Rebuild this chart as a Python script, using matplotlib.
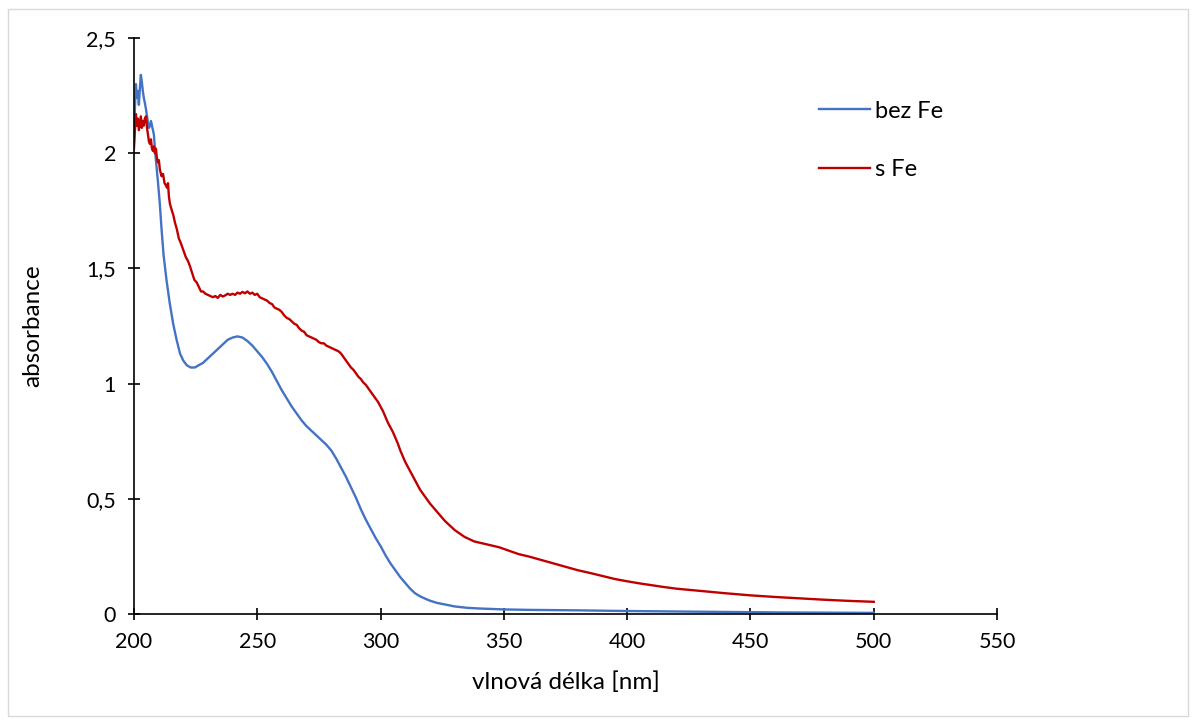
import matplotlib
matplotlib.use("Agg")
import matplotlib.pyplot as plt
from matplotlib.ticker import FuncFormatter, MultipleLocator
from matplotlib.patches import Rectangle

plt.rcParams['font.family'] = ['Lato', 'DejaVu Sans']

# absorption spectrum without iron
bez_fe_nm = [200.0, 200.4, 200.8, 201.2, 201.6, 202.0, 202.4, 202.8, 203.2, 203.6,
             204.0, 204.4, 204.9, 205.3, 205.7, 206.1, 206.5, 206.9, 207.3, 207.7,
             208.1, 208.5, 208.9, 209.7, 210.5, 211.2, 212.0, 213.2, 214.5, 215.9,
             217.3, 218.7, 220.0, 221.4, 223.0, 224.7, 226.3, 228.0, 230.0, 232.0,
             234.0, 236.0, 238.0, 240.0, 242.0, 244.0, 246.0, 248.0, 250.0, 252.0,
             254.0, 256.0, 258.0, 260.0, 262.0, 264.0, 266.0, 268.0, 270.0, 272.0,
             274.0, 276.0, 278.0, 280.0, 282.0, 284.0, 286.0, 288.0, 290.0, 292.0,
             294.0, 296.0, 298.0, 300.0, 302.0, 304.0, 306.0, 308.0, 310.0, 312.0,
             314.0, 316.0, 318.0, 320.0, 323.0, 326.8, 330.0, 335.0, 340.0, 350.0,
             360.0, 380.0, 400.0, 420.0, 440.0, 460.0, 480.0, 500.0]
bez_fe_abs = [2.05, 2.20, 2.30, 2.24, 2.27, 2.21, 2.28, 2.34, 2.31, 2.27,
              2.24, 2.22, 2.19, 2.16, 2.13, 2.11, 2.12, 2.14, 2.12, 2.10,
              2.08, 2.02, 1.97, 1.88, 1.78, 1.67, 1.56, 1.45, 1.35, 1.26,
              1.19, 1.13, 1.10, 1.08, 1.07, 1.07, 1.08, 1.09, 1.11, 1.13,
              1.15, 1.17, 1.19, 1.20, 1.205, 1.20, 1.185, 1.165, 1.14, 1.115,
              1.085, 1.05, 1.01, 0.97, 0.935, 0.90, 0.87, 0.84, 0.815, 0.795,
              0.775, 0.755, 0.735, 0.71, 0.675, 0.635, 0.595, 0.55, 0.505, 0.455,
              0.41, 0.37, 0.33, 0.295, 0.255, 0.22, 0.19, 0.16, 0.135, 0.11,
              0.09, 0.077, 0.067, 0.058, 0.048, 0.04, 0.033, 0.027, 0.024, 0.02,
              0.018, 0.016, 0.013, 0.011, 0.009, 0.007, 0.006, 0.005]

# absorption spectrum with iron
s_fe_nm = [200.0, 200.4, 200.8, 201.2, 201.6, 202.0, 202.4, 202.8, 203.2, 203.6,
           204.0, 204.4, 204.9, 205.3, 205.7, 206.1, 206.5, 206.9, 207.3, 207.7,
           208.1, 208.5, 208.9, 209.3, 209.7, 210.1, 210.5, 211.2, 211.8, 212.4,
           213.0, 213.4, 213.8, 214.2, 214.6, 215.4, 216.0, 216.6, 217.4, 218.2,
           219.0, 220.0, 221.0, 222.0, 222.7, 223.6, 224.5, 225.4, 226.3, 227.2,
           228.0, 229.0, 230.0, 231.0, 232.0, 233.0, 234.0, 235.0, 236.0, 237.0,
           238.0, 239.0, 240.0, 241.0, 242.0, 243.0, 244.0, 245.0, 246.0, 247.0,
           248.0, 249.0, 250.0, 251.0, 252.0, 253.0, 254.0, 255.0, 256.0, 257.0,
           258.0, 259.0, 260.0, 261.0, 262.0, 263.0, 264.0, 265.0, 266.0, 267.0,
           268.0, 269.0, 270.0, 271.0, 272.0, 273.0, 274.0, 275.0, 276.0, 277.0,
           278.0, 279.0, 280.0, 281.0, 282.0, 283.0, 284.0, 285.0, 286.0, 287.0,
           288.0, 289.0, 290.0, 291.0, 292.0, 293.0, 294.0, 295.0, 296.0, 297.0,
           298.0, 299.0, 300.0, 301.0, 302.0, 303.0, 304.0, 305.0, 306.0, 307.0,
           308.0, 309.0, 310.0, 311.0, 312.0, 313.0, 314.0, 316.0, 318.0, 320.0,
           322.0, 324.0, 326.0, 328.0, 330.0, 332.0, 334.0, 336.0, 338.0, 340.0,
           344.0, 348.0, 352.0, 356.0, 360.0, 365.0, 370.0, 375.0, 380.0, 385.0,
           390.0, 395.0, 400.0, 405.0, 410.0, 415.0, 420.0, 430.0, 440.0, 450.0,
           460.0, 470.0, 480.0, 490.0, 500.0]
s_fe_abs = [2.02, 2.10, 2.17, 2.12, 2.15, 2.10, 2.13, 2.16, 2.11, 2.14,
            2.12, 2.15, 2.16, 2.11, 2.08, 2.05, 2.04, 2.06, 2.02, 2.01,
            2.03, 2.00, 2.02, 1.98, 1.96, 1.97, 1.93, 1.90, 1.91, 1.87,
            1.86, 1.85, 1.87, 1.81, 1.78, 1.75, 1.73, 1.70, 1.67, 1.63,
            1.61, 1.58, 1.55, 1.53, 1.51, 1.48, 1.45, 1.44, 1.42, 1.40,
            1.40, 1.39, 1.385, 1.38, 1.375, 1.38, 1.372, 1.385, 1.378, 1.383,
            1.39, 1.385, 1.39, 1.385, 1.395, 1.39, 1.398, 1.392, 1.40, 1.39,
            1.395, 1.385, 1.39, 1.375, 1.37, 1.365, 1.36, 1.35, 1.345, 1.33,
            1.325, 1.32, 1.31, 1.295, 1.285, 1.28, 1.27, 1.26, 1.255, 1.24,
            1.23, 1.225, 1.21, 1.205, 1.20, 1.195, 1.19, 1.18, 1.175, 1.175,
            1.165, 1.16, 1.155, 1.15, 1.145, 1.14, 1.13, 1.115, 1.10, 1.085,
            1.07, 1.06, 1.045, 1.03, 1.02, 1.005, 0.995, 0.98, 0.965, 0.95,
            0.935, 0.92, 0.90, 0.88, 0.855, 0.83, 0.81, 0.79, 0.765, 0.74,
            0.71, 0.685, 0.66, 0.64, 0.62, 0.60, 0.58, 0.54, 0.51, 0.48,
            0.455, 0.43, 0.405, 0.385, 0.365, 0.35, 0.335, 0.325, 0.315, 0.31,
            0.30, 0.29, 0.275, 0.26, 0.25, 0.235, 0.22, 0.205, 0.19, 0.178,
            0.165, 0.152, 0.142, 0.133, 0.125, 0.117, 0.11, 0.10, 0.09, 0.081,
            0.074, 0.068, 0.062, 0.057, 0.053]

fig = plt.figure(figsize=(11.97, 7.24), dpi=100)
ax = fig.add_axes([0.1119, 0.1519, 0.7211, 0.7956])

ax.plot(bez_fe_nm, bez_fe_abs, color='#4472C4', lw=1.7, label='bez Fe')
ax.plot(s_fe_nm, s_fe_abs, color='#C00000', lw=1.7, label='s Fe')

ax.set_xlim(200, 550)
ax.set_ylim(0, 2.5)
ax.xaxis.set_major_locator(MultipleLocator(50))
ax.yaxis.set_major_locator(MultipleLocator(0.5))
ax.yaxis.set_major_formatter(FuncFormatter(lambda v, p: ('%g' % v).replace('.', ',')))

for side in ['top', 'right']:
    ax.spines[side].set_visible(False)
for side in ['left', 'bottom']:
    ax.spines[side].set_linewidth(1.2)
    ax.spines[side].set_color('black')
ax.tick_params(direction='inout', length=8, width=1.2, labelsize=15.5, colors='black')
ax.tick_params(axis='x', pad=9)
ax.tick_params(axis='y', pad=9)

ax.set_xlabel('vlnová délka [nm]', fontsize=17.5, labelpad=14)
ax.set_ylabel('absorbance', fontsize=17.5, labelpad=31)

ax.legend(loc='upper left', bbox_to_anchor=(0.670, 0.884), bbox_transform=fig.transFigure,
          frameon=False, fontsize=17, handlelength=2.2, handletextpad=0.2, labelspacing=1.6,
          borderpad=0.2)

# thin grey border round the chart area
fig.patches.append(Rectangle((0.0067, 0.011), 0.986, 0.976, transform=fig.transFigure,
                             fill=False, edgecolor='#D9D9D9', lw=1.0))

fig.savefig('out.png', dpi=100)
